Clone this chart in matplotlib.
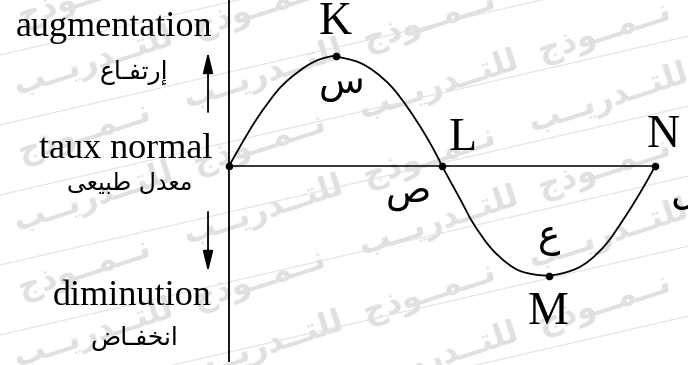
import numpy as np
import matplotlib as mpl
mpl.use('Agg')
import matplotlib.pyplot as plt
from matplotlib.path import Path
from matplotlib.patches import PathPatch

# curve: time (quarter periods) vs level (normal = 0)
t = [0.0, 0.085, 0.178, 0.272, 0.366, 0.460, 0.554, 0.648, 0.742, 0.836, 0.930, 1.0,
     1.21, 1.37, 1.53, 1.68, 1.84, 1.96, 2.0,
     2.169, 2.291, 2.451, 2.610, 2.761, 3.0,
     3.230, 3.390, 3.549, 3.700, 3.859, 3.981, 4.0]
level = [0.0, 0.146, 0.301, 0.447, 0.575, 0.694, 0.785, 0.858, 0.922, 0.968, 0.995, 1.0,
         0.95, 0.86, 0.72, 0.53, 0.29, 0.08, 0.0,
         -0.30, -0.52, -0.74, -0.886, -0.968, -1.0,
         -0.95, -0.858, -0.703, -0.493, -0.247, -0.037, 0.0]

# marked points
pt_t = [0.0, 1.0, 2.0, 3.0, 4.0]
pt_v = [0.0, 1.0, 0.0, -1.0, 0.0]
pt_lat = ['', 'K', 'L', 'M', 'N']
pt_ar = ['', '\uFEB1', '\uFEB9', '\uFEC9', '\uFEDD']   # س ص ع ل

# axis labels (Arabic written in visual order, presentation forms)
lab_up = 'augmentation'
lab_up_ar = '\uFEC9\uFE8E\u0640\uFED4\uFE97\uFEAD\uFE87'           # إرتفـاع
lab_mid = 'taux normal'
lab_mid_ar = '\uFEF0\uFECC\uFEF4\uFE92\uFEC3 \uFEDD\uFEAA\uFECC\uFEE3'  # معدل طبيعى
lab_down = 'diminution'
lab_down_ar = '\uFEBD\uFE8E\u0640\uFED4\uFEA8\uFEE7\uFE8D'         # انخفـاض
wm = '\uFE90\u0640\u0640\uFEF3\uFEAD\uFEAA\u0640\u0640\uFE98\uFEE0\uFEDF  \uFE9D\uFEAB\uFEEE\u0640\u0640\uFEE4\u0640\u0640\uFEE7'


def smooth_path(x, y):
    # catmull-rom through the read points, drawn as cubic bezier segments
    p = np.column_stack([x, y])
    verts = [p[0]]
    codes = [Path.MOVETO]
    for i in range(len(p) - 1):
        p0 = p[i - 1] if i > 0 else p[i]
        p3 = p[i + 2] if i + 2 < len(p) else p[i + 1]
        c1 = p[i] + (p[i + 1] - p0) / 6
        c2 = p[i + 1] - (p3 - p[i]) / 6
        verts += [c1, c2, p[i + 1]]
        codes += [Path.CURVE4] * 3
    return Path(verts, codes)


W, H = 688, 365
fig = plt.figure(figsize=(W / 100, H / 100), dpi=100)

# watermark layer, in pixels
bg = fig.add_axes([0, 0, 1, 1])
bg.set_xlim(0, W)
bg.set_ylim(0, H)
bg.axis('off')
xs = np.array([0, W])
for y0 in range(-180, 420, 70):
    bg.plot(xs, y0 + np.tan(np.deg2rad(13)) * xs, color='#e4e4e4', lw=0.9, zorder=0)
ang = np.deg2rad(18)
for i, y0 in enumerate(range(-170, 400, 68)):
    for x0 in range(-330 + (i % 2) * 170, W + 60, 345):
        bg.text(x0, y0 + 34 + np.tan(ang) * x0, wm, rotation=18, rotation_mode='anchor',
                fontsize=23, fontweight='bold', color='#e0e0e0', family='DejaVu Sans',
                ha='left', va='center', zorder=0, clip_on=True)

# main drawing
ax = fig.add_axes([0, 0, 1, 1])
ax.patch.set_alpha(0)
ax.set_xlim(-229 / 106.5, (W - 229) / 106.5)
ax.set_ylim(-(H - 166) / 109.5, 166 / 109.5)
ax.axis('off')

ax.vlines(0, -(H - 3 - 166) / 109.5, 2, color='k', lw=1.3)
ax.hlines(0, pt_t[0], pt_t[-1], color='k', lw=1.1)
ax.add_patch(PathPatch(smooth_path(t, level), fc='none', ec='k', lw=1.3))
ax.plot(pt_t, pt_v, 'o', color='k', ms=4.5, ls='none')

serif = 'Liberation Serif'
lat_off = [(0, 0), (0, 34), (21, 27), (0, -37), (8, 30)]
ar_off = [(0, 0), (6, -28), (-34, -27), (1, 38), (29, -28)]
for i in range(1, 5):
    ax.annotate(pt_lat[i], (pt_t[i], pt_v[i]), xytext=lat_off[i], textcoords='offset pixels',
                ha='center', va='center', fontsize=33, family=serif)
    ax.annotate(pt_ar[i], (pt_t[i], pt_v[i]), xytext=ar_off[i], textcoords='offset pixels',
                ha='center', va='center', fontsize=27, family='DejaVu Sans')

# left labels
ax.text(-0.16, 1.19, lab_up, ha='right', va='baseline', fontsize=26, family=serif)
ax.text(-0.16, 0.075, lab_mid, ha='right', va='baseline', fontsize=26, family=serif)
ax.text(-0.16, -1.27, lab_down, ha='right', va='baseline', fontsize=26, family=serif)
ax.text(-0.89, 0.858, lab_up_ar, ha='center', va='center', fontsize=18, family='DejaVu Sans')
ax.text(-0.93, -0.155, lab_mid_ar, ha='center', va='center', fontsize=17, family='DejaVu Sans')
ax.text(-0.89, -1.571, lab_down_ar, ha='center', va='center', fontsize=18, family='DejaVu Sans')

arr = dict(arrowstyle='-|>,head_length=0.9,head_width=0.22', color='k', lw=1.3,
           mutation_scale=14, shrinkA=0, shrinkB=0)
ax.annotate('', xy=(-0.197, 1.041), xytext=(-0.197, 0.493), arrowprops=arr)
ax.annotate('', xy=(-0.197, -0.968), xytext=(-0.197, -0.42), arrowprops=arr)

fig.savefig('out.png', dpi=100)
